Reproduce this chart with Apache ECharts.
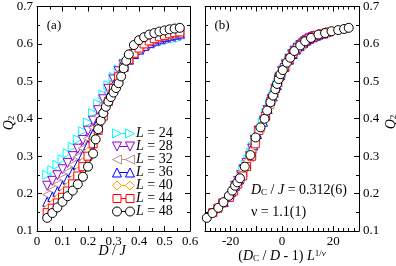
<!DOCTYPE html>
<html><head><meta charset="utf-8">
<script src="https://cdn.jsdelivr.net/npm/echarts@6/dist/echarts.min.js"></script>
<style>html,body{margin:0;padding:0;background:#fff}#c{width:396px;height:266px}</style>
</head><body><div id="c"></div><script>
// ---- Data ----
const sizes = [24, 28, 32, 36, 40, 44, 48];
const dCommon = [0.04,0.06,0.08,0.10,0.12,0.14,0.16,0.18,0.20,0.22,0.24,0.26,0.28,0.30,0.32,0.34,0.36,0.38,0.40,0.42,0.44,0.46,0.48,0.50,0.52,0.54,0.56];
const q24 = [0.250,0.263,0.277,0.292,0.308,0.325,0.345,0.367,0.390,0.415,0.440,0.465,0.490,0.512,0.532,0.548,0.562,0.573,0.582,0.589,0.595,0.600,0.604,0.608,0.611,0.614,0.616];
const q28 = [0.221,0.234,0.249,0.265,0.282,0.300,0.320,0.343,0.368,0.395,0.423,0.452,0.480,0.505,0.527,0.545,0.560,0.572,0.582,0.590,0.597,0.603,0.607,0.611,0.615,0.618,0.621];
const q32 = [0.197,0.210,0.225,0.241,0.258,0.277,0.298,0.321,0.347,0.376,0.407,0.438,0.469,0.497,0.522,0.542,0.559,0.573,0.584,0.593,0.600,0.606,0.611,0.615,0.619,0.622,0.625];
const q36 = [0.178,0.191,0.205,0.221,0.238,0.257,0.278,0.302,0.329,0.359,0.392,0.426,0.460,0.490,0.517,0.539,0.558,0.573,0.585,0.595,0.603,0.609,0.614,0.618,0.622,0.625,0.628];
const q40 = [0.159,0.172,0.186,0.202,0.219,0.238,0.259,0.284,0.312,0.344,0.379,0.415,0.452,0.485,0.514,0.538,0.558,0.574,0.587,0.598,0.606,0.612,0.617,0.621,0.625,0.628,0.630];
const q44 = [0.149,0.161,0.175,0.190,0.207,0.226,0.247,0.272,0.300,0.333,0.369,0.407,0.446,0.481,0.512,0.537,0.558,0.575,0.589,0.600,0.608,0.614,0.619,0.623,0.627,0.630,0.632];
const d48 = [0.04,0.06,0.08,0.10,0.12,0.14,0.16,0.18,0.20,0.22,0.23,0.24,0.25,0.26,0.27,0.28,0.29,0.30,0.31,0.32,0.33,0.34,0.35,0.36,0.38,0.40,0.42,0.44,0.46,0.48,0.50,0.52,0.54,0.56];
const q48 = [0.135,0.148,0.163,0.178,0.193,0.208,0.225,0.245,0.272,0.307,0.345,0.372,0.395,0.415,0.432,0.446,0.458,0.470,0.482,0.495,0.513,0.535,0.555,0.572,0.597,0.610,0.618,0.625,0.629,0.633,0.636,0.639,0.641,0.643];
// scaled variable (Dc/D - 1) L^(1/nu)
const x24 = [-15.8,-15.1,-14.1,-13.1,-12.1,-11.4,-10.5,-9.1,-7.5,-6.1,-4.7,-3.3,-2.0,-1.0,0.5,1.7,3.1,4.1,4.9,6.0,6.9,7.8,8.5,9.2,9.8,10.6,11.3];
const x28 = [-18.3,-17.1,-15.9,-15.0,-13.8,-12.5,-11.6,-10.6,-9.1,-7.1,-5.7,-4.1,-2.6,-1.3,0.0,1.5,2.9,4.0,4.9,6.2,7.2,8.3,9.0,9.8,10.8,11.9,12.9];
const x32 = [-20.4,-19.2,-18.0,-16.4,-15.4,-14.1,-12.7,-11.6,-10.4,-8.5,-6.5,-4.9,-3.1,-1.7,-0.4,1.3,2.8,4.1,5.3,6.6,7.8,8.8,9.8,10.8,12.3,13.2,14.2];
const x36 = [-22.7,-21.1,-19.7,-18.3,-16.7,-15.4,-14.1,-12.4,-11.2,-9.7,-7.4,-5.6,-3.6,-2.0,-0.7,1.0,2.7,4.1,5.4,6.9,8.3,9.4,10.6,11.9,13.2,14.2,16.1];
const x40 = [-25.3,-23.5,-21.7,-20.0,-18.5,-16.7,-15.3,-13.6,-11.9,-10.6,-8.3,-6.1,-4.1,-2.3,-0.9,0.9,2.7,4.2,5.7,7.4,8.8,10.1,11.6,12.9,14.2,16.1,17.3];
const x44 = [-27.0,-25.0,-23.1,-20.5,-18.8,-17.2,-15.3,-13.8,-11.8,-10.4,-9.0,-6.5,-4.4,-2.5,-1.0,0.9,2.7,4.3,6.0,7.8,9.2,10.6,12.3,13.6,15.5,17.3,18.3];
const x48 = [-29.3,-27.1,-24.8,-22.8,-20.7,-19.4,-18.3,-17.4,-16.4,-14.5,-12.3,-10.3,-8.4,-6.8,-5.8,-4.5,-3.5,-2.6,-1.9,-1.3,-0.6,0.3,1.9,3.2,4.8,7.1,9.0,11.3,14.2,16.8,19.3,21.9,24.2,26.0];
const q48b = [0.135,0.148,0.162,0.177,0.194,0.208,0.221,0.230,0.241,0.272,0.303,0.350,0.377,0.400,0.422,0.444,0.462,0.479,0.493,0.506,0.519,0.530,0.550,0.563,0.581,0.596,0.607,0.616,0.625,0.629,0.634,0.637,0.640,0.643];
const leftTicksQ = [0.1, 0.7];
const xTicksA = [0, 0.6];
const xTicksB = [-30, 30];

// ---- Styles ----
const colors = ['#00ffff', '#9400d3', '#bc8f8f', '#0000ff', '#ffa500', '#ff0000', '#000000'];
const symbols = ['path://M0,0L10,5L0,10Z', 'path://M0,0L10,0L5,10Z', 'path://M10,0L0,5L10,10Z', 'triangle', 'diamond', 'rect', 'circle'];
const symSizes = [9, 9, 9, 9, 9, 8, 9];
const leftD = [dCommon, dCommon, dCommon, dCommon, dCommon, dCommon, d48];
const leftQ = [q24, q28, q32, q36, q40, q44, q48];
const rightX = [x24, x28, x32, x36, x40, x44, x48];
const rightQ = [q24, q28, q32, q36, q40, q44, q48b];

const SERIF = 'Liberation Serif';
const series = [];
sizes.forEach((L, k) => {
  series.push({
    type: 'line', xAxisIndex: 0, yAxisIndex: 0,
    data: leftD[k].map((d, i) => [d, leftQ[k][i]]),
    symbol: symbols[k], symbolSize: symSizes[k], showAllSymbol: true,
    lineStyle: { color: colors[k], width: 1 },
    itemStyle: { color: '#fff', borderColor: colors[k], borderWidth: 1 },
    animation: false, z: 2 + k
  });
});
sizes.forEach((L, k) => {
  series.push({
    type: 'scatter', xAxisIndex: 2, yAxisIndex: 2,
    data: rightX[k].map((x, i) => [x, rightQ[k][i]]),
    symbol: symbols[k], symbolSize: symSizes[k],
    itemStyle: { color: '#fff', borderColor: colors[k], borderWidth: 1, opacity: 1 },
    animation: false, z: 2 + k
  });
});

function axisBase(extra) {
  return Object.assign({
    type: 'value',
    axisLine: { show: true, onZero: false, lineStyle: { color: '#000', width: 1 } },
    axisTick: { show: true, inside: true, length: 5, lineStyle: { color: '#000' } },
    minorTick: { show: true, splitNumber: 2, length: 3, lineStyle: { color: '#000' } },
    splitLine: { show: false },
    axisLabel: { show: false }
  }, extra);
}
const lab = { show: true, color: '#000', fontFamily: SERIF, fontSize: 13, margin: 4 };

const option = {
  backgroundColor: '#fff',
  animation: false,
  grid: [
    { left: 37, top: 5, width: 153, height: 226 },
    { left: 205, top: 5, width: 154, height: 226 }
  ],
  xAxis: [
    axisBase({ gridIndex: 0, position: 'bottom', min: xTicksA[0], max: xTicksA[1], interval: 0.1, axisLabel: lab }),
    axisBase({ gridIndex: 0, position: 'top', min: xTicksA[0], max: xTicksA[1], interval: 0.1 }),
    axisBase({ gridIndex: 1, position: 'bottom', min: xTicksB[0], max: xTicksB[1], interval: 10,
      minorTick: { show: true, splitNumber: 5, length: 3, lineStyle: { color: '#000' } },
      axisLabel: Object.assign({}, lab, { formatter: v => (Math.round(v) % 20 === 0 ? String(v) : '') }) }),
    axisBase({ gridIndex: 1, position: 'top', min: xTicksB[0], max: xTicksB[1], interval: 10,
      minorTick: { show: true, splitNumber: 5, length: 3, lineStyle: { color: '#000' } } })
  ],
  yAxis: [
    axisBase({ gridIndex: 0, position: 'left', min: leftTicksQ[0], max: leftTicksQ[1], interval: 0.1, axisLabel: lab }),
    axisBase({ gridIndex: 0, position: 'right', min: leftTicksQ[0], max: leftTicksQ[1], interval: 0.1 }),
    axisBase({ gridIndex: 1, position: 'left', min: leftTicksQ[0], max: leftTicksQ[1], interval: 0.1 }),
    axisBase({ gridIndex: 1, position: 'right', min: leftTicksQ[0], max: leftTicksQ[1], interval: 0.1, axisLabel: lab })
  ],
  series: series,
  graphic: []
};

// legend (marker - line - marker, then label)
const g = option.graphic;
function marker(k, cx, cy) {
  const s = 4.5, c = colors[k];
  const st = { fill: '#fff', stroke: c, lineWidth: 1 };
  if (k === 6) return { type: 'circle', shape: { cx: cx, cy: cy, r: 4.5 }, style: st, z: 100 };
  if (k === 5) return { type: 'rect', shape: { x: cx - 4, y: cy - 4, width: 8, height: 8 }, style: st, z: 100 };
  let pts;
  if (k === 0) pts = [[cx - s, cy - s], [cx + s, cy], [cx - s, cy + s]];
  else if (k === 1) pts = [[cx - s, cy - s], [cx + s, cy - s], [cx, cy + s]];
  else if (k === 2) pts = [[cx + s, cy - s], [cx - s, cy], [cx + s, cy + s]];
  else if (k === 3) pts = [[cx - s, cy + s], [cx + s, cy + s], [cx, cy - s]];
  else pts = [[cx, cy - s], [cx + s, cy], [cx, cy + s], [cx - s, cy]];
  return { type: 'polygon', shape: { points: pts }, style: st, z: 100 };
}
const it = { fontStyle: 'italic', fontFamily: SERIF, fontSize: 14, fill: '#000' };
const nm = { fontFamily: SERIF, fontSize: 14, fill: '#000' };
sizes.forEach((L, k) => {
  const y = 133.5 + 13 * k;
  g.push({ type: 'line', shape: { x1: 117, y1: y, x2: 130, y2: y }, style: { stroke: colors[k], lineWidth: 1 }, z: 99 });
  g.push(marker(k, 117, y));
  g.push(marker(k, 130, y));
  g.push({ type: 'text', x: 136, y: y, z: 100, style: { text: '{i|L}{n| = ' + L + '}', rich: { i: it, n: nm }, textVerticalAlign: 'middle', textAlign: 'left' } });
});
const sub = { fontFamily: SERIF, fontSize: 9, fill: '#000', verticalAlign: 'bottom', padding: [0, 0, 0, 0] };
// panel labels
g.push({ type: 'text', x: 54, y: 26, style: { text: '(a)', font: '13px ' + SERIF, fill: '#000', textAlign: 'center', textVerticalAlign: 'middle' } });
g.push({ type: 'text', x: 222, y: 26, style: { text: '(b)', font: '13px ' + SERIF, fill: '#000', textAlign: 'center', textVerticalAlign: 'middle' } });
// axis names
g.push({ type: 'text', x: 112, y: 251, style: { text: '{i|D}{n| / }{i|J}', rich: { i: it, n: nm }, textAlign: 'center', textVerticalAlign: 'middle' } });
g.push({ type: 'text', x: 282, y: 256, style: { text: '{n|(}{i|D}{s|C}{n| / }{i|D}{n| - 1) }{i|L}{p|1/}{pi|ν}',
  rich: { i: it, n: nm, s: sub, p: { fontFamily: SERIF, fontSize: 9, fill: '#000', verticalAlign: 'top' }, pi: { fontFamily: SERIF, fontSize: 9, fontStyle: 'italic', fill: '#000', verticalAlign: 'top' } },
  textAlign: 'center', textVerticalAlign: 'middle' } });
g.push({ type: 'text', x: 9, y: 123, rotation: Math.PI / 2, style: { text: '{i|Q}{s|2}', rich: { i: it, s: sub }, textAlign: 'center', textVerticalAlign: 'middle' } });
g.push({ type: 'text', x: 391, y: 122, rotation: Math.PI / 2, style: { text: '{i|Q}{s|2}', rich: { i: it, s: sub }, textAlign: 'center', textVerticalAlign: 'middle' } });
// fit result text
g.push({ type: 'text', x: 251, y: 190, style: { text: '{i|D}{s|C}{n| / }{i|J}{n| = 0.312(6)}', rich: { i: it, n: nm, s: sub }, textAlign: 'left', textVerticalAlign: 'middle' } });
g.push({ type: 'text', x: 251, y: 212, style: { text: 'ν = 1.1(1)', font: '14px ' + SERIF, fill: '#000', textAlign: 'left', textVerticalAlign: 'middle' } });

const chart = echarts.init(document.getElementById('c'), null, { renderer: 'canvas' });
chart.setOption(option);
</script></body></html>
